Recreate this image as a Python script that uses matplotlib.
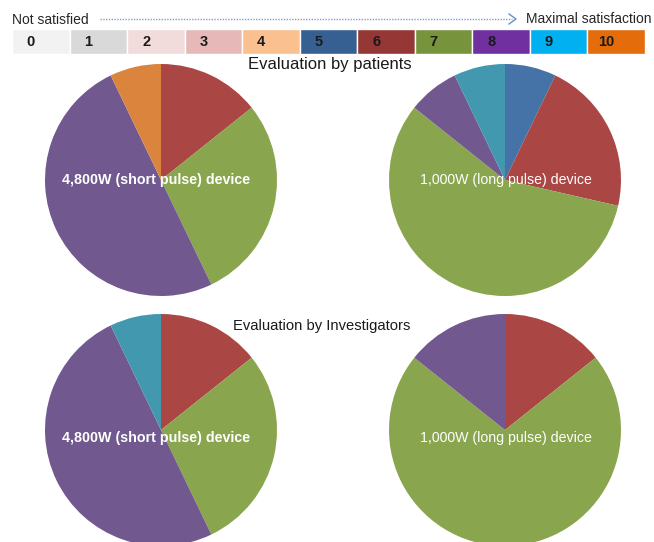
import numpy as np
import matplotlib
matplotlib.use('Agg')
import matplotlib.pyplot as plt
from matplotlib.lines import Line2D

plt.rcParams['font.family'] = ['Liberation Sans', 'DejaVu Sans']

# satisfaction scale 0..10
scale_labels = ['0', '1', '2', '3', '4', '5', '6', '7', '8', '9', '10']
scale_colors = ['#f2f2f2', '#d9d9d9', '#f2dcdb', '#e6b9b8', '#fac090', '#376092',
                '#953735', '#77933c', '#7030a0', '#00b0f0', '#e46c0a']

# pie slice colours per score
score_colors = {5: '#4572a7', 6: '#aa4643', 7: '#89a54e', 8: '#71588f',
                9: '#4198af', 10: '#db843d'}

# number of ratings per score
pat_short_scores = [6, 7, 8, 10]
pat_short_counts = [2, 4, 7, 1]
pat_long_scores = [5, 6, 7, 8, 9]
pat_long_counts = [1, 3, 8, 1, 1]
inv_short_scores = [6, 7, 8, 9]
inv_short_counts = [2, 4, 7, 1]
inv_long_scores = [6, 7, 8]
inv_long_counts = [2, 10, 2]

W, H = 654, 542
fig = plt.figure(figsize=(W / 100, H / 100), dpi=100)


def px_axes(x0, y0, w, h):
    # axes from pixel box (top-left origin)
    return fig.add_axes([x0 / W, 1 - (y0 + h) / H, w / W, h / H])


# ---- scale bar at the top
leg = px_axes(12, 29, 633, 25)
leg.bar(np.arange(len(scale_labels)), np.ones(len(scale_labels)), width=1.0,
        color=scale_colors, edgecolor='white', linewidth=1, align='edge')
for i, lab in enumerate(scale_labels):
    leg.text(i + 0.33, 0.5, lab, ha='center', va='center', fontsize=10.5,
             fontweight='bold', color='#1a1a1a')
leg.set_xlim(0, len(scale_labels))
leg.set_ylim(0, 1)
leg.axis('off')

fig.text(12 / W, 1 - 20 / H, 'Not satisfied', ha='left', va='center', fontsize=10, color='#262626')
fig.text(652 / W, 1 - 19 / H, 'Maximal satisfaction', ha='right', va='center', fontsize=10, color='#262626')
fig.add_artist(Line2D([100 / W, 512 / W], [1 - 19 / H, 1 - 19 / H], transform=fig.transFigure,
                      color='#7f9fd0', linestyle=(0, (1, 1)), linewidth=1))
fig.add_artist(Line2D([509 / W, 516 / W, 509 / W], [1 - 14 / H, 1 - 19 / H, 1 - 24 / H],
                      transform=fig.transFigure, color='#6a8fc8', linewidth=1))


# ---- pies
def draw_pie(cx, cy, scores, counts):
    r = 116
    ax = px_axes(cx - r, cy - r, 2 * r, 2 * r)
    ax.pie(counts, colors=[score_colors[s] for s in scores], startangle=90,
           counterclock=False, radius=1, wedgeprops=dict(linewidth=0))
    ax.set_xlim(-1, 1)
    ax.set_ylim(-1, 1)
    ax.set_aspect('equal')
    ax.axis('off')
    return ax


draw_pie(161, 180, pat_short_scores, pat_short_counts)
draw_pie(505, 180, pat_long_scores, pat_long_counts)
draw_pie(161, 430, inv_short_scores, inv_short_counts)
draw_pie(505, 430, inv_long_scores, inv_long_counts)

fig.text(156 / W, 1 - 180 / H, '4,800W (short pulse) device', ha='center', va='center',
         fontsize=10.3, fontweight='bold', color='white', zorder=10)
fig.text(506 / W, 1 - 180 / H, '1,000W (long pulse) device', ha='center', va='center',
         fontsize=10.2, color='white', zorder=10)
fig.text(156 / W, 1 - 438 / H, '4,800W (short pulse) device', ha='center', va='center',
         fontsize=10.3, fontweight='bold', color='white', zorder=10)
fig.text(506 / W, 1 - 438 / H, '1,000W (long pulse) device', ha='center', va='center',
         fontsize=10.2, color='white', zorder=10)

fig.text(330 / W, 1 - 64 / H, 'Evaluation by patients', ha='center', va='center',
         fontsize=12, color='#1a1a1a', zorder=10)
fig.text(322 / W, 1 - 326 / H, 'Evaluation by Investigators', ha='center', va='center',
         fontsize=10.6, color='#1a1a1a', zorder=10)

fig.savefig('out.png', dpi=100)
